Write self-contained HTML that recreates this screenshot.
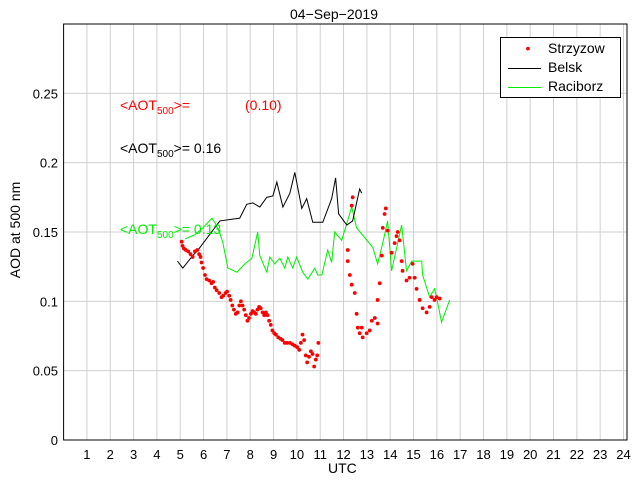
<!DOCTYPE html>
<html><head><meta charset="utf-8"><style>
body{margin:0;background:#fff;font-family:"Liberation Sans",sans-serif}
svg text{font-family:"Liberation Sans",sans-serif}
</style></head><body>
<svg id="c" width="640" height="480"></svg>
<script>
const xTicks=[1,2,3,4,5,6,7,8,9,10,11,12,13,14,15,16,17,18,19,20,21,22,23,24];
const yTicks=[0,0.05,0.1,0.15,0.2,0.25];
const yTickLabels=["0","0.05","0.1","0.15","0.2","0.25"];
const belskH=[4.88,5.11,5.54,5.76,6.70,7.55,7.85,8.11,8.41,8.71,8.97,9.14,9.40,9.70,9.91,10.21,10.42,10.68,11.11,11.49,11.66,11.79,12.14,12.39,12.69,12.78];
const belskA=[0.129,0.124,0.133,0.137,0.158,0.160,0.170,0.171,0.168,0.175,0.176,0.186,0.168,0.178,0.193,0.167,0.174,0.157,0.157,0.174,0.189,0.163,0.155,0.158,0.181,0.178];
const racH=[5.20,5.63,5.97,6.36,6.48,6.70,6.83,7.04,7.43,7.77,8.07,8.32,8.41,8.71,8.84,9.05,9.27,9.48,9.61,9.82,9.99,10.25,10.47,10.77,10.89,11.07,11.32,11.49,11.62,11.92,12.35,12.56,13.25,13.46,13.68,13.89,14.06,14.49,14.70,14.92,15.35,15.39,15.69,15.90,15.99,16.20,16.55];
const racA=[0.145,0.148,0.153,0.160,0.157,0.149,0.142,0.124,0.121,0.127,0.131,0.150,0.133,0.121,0.132,0.127,0.131,0.124,0.132,0.124,0.132,0.121,0.116,0.124,0.119,0.119,0.137,0.128,0.150,0.144,0.168,0.153,0.139,0.127,0.142,0.158,0.122,0.155,0.122,0.129,0.129,0.119,0.103,0.109,0.103,0.085,0.101];
const strH=[5.06,5.10,5.16,5.24,5.34,5.44,5.53,5.63,5.73,5.81,5.87,5.91,5.98,6.06,6.13,6.24,6.34,6.41,6.48,6.56,6.67,6.77,6.84,6.94,7.01,7.10,7.16,7.23,7.30,7.38,7.46,7.53,7.60,7.67,7.74,7.81,7.88,7.95,8.03,8.10,8.17,8.24,8.31,8.38,8.45,8.53,8.60,8.67,8.74,8.81,8.88,8.95,9.03,9.10,9.20,9.30,9.38,9.48,9.58,9.70,9.81,9.91,10.01,10.10,10.17,10.24,10.31,10.38,10.44,10.52,10.60,10.67,10.74,10.81,10.87,10.92,
12.18,12.18,12.27,12.35,12.48,12.56,12.61,12.69,12.78,12.82,12.99,13.12,13.21,13.34,13.46,13.46,13.55,13.64,13.68,13.76,13.81,13.89,14.06,14.19,14.27,14.32,14.40,14.49,14.53,14.70,14.83,14.96,15.05,15.13,15.26,15.39,15.56,15.69,15.78,15.90,15.99,16.12,12.39,12.35];
const strA=[0.143,0.140,0.138,0.137,0.136,0.134,0.132,0.136,0.137,0.134,0.132,0.128,0.124,0.119,0.116,0.115,0.113,0.114,0.110,0.108,0.106,0.103,0.104,0.106,0.107,0.104,0.101,0.097,0.094,0.091,0.092,0.097,0.100,0.097,0.094,0.090,0.086,0.088,0.091,0.093,0.092,0.091,0.094,0.096,0.095,0.092,0.090,0.092,0.090,0.086,0.083,0.079,0.077,0.076,0.074,0.073,0.072,0.070,0.070,0.070,0.069,0.068,0.067,0.065,0.070,0.076,0.072,0.061,0.056,0.060,0.064,0.062,0.053,0.058,0.061,0.070,
0.137,0.129,0.119,0.112,0.106,0.091,0.081,0.077,0.081,0.074,0.077,0.079,0.086,0.088,0.084,0.101,0.113,0.133,0.153,0.163,0.167,0.151,0.135,0.142,0.147,0.150,0.144,0.129,0.122,0.115,0.117,0.127,0.117,0.109,0.101,0.095,0.092,0.096,0.103,0.101,0.103,0.102,0.175,0.169];

const L=63.6,R=627,T=24,B=440,xMax=24.15,yMax=0.3;
const X=h=>L+h/xMax*(R-L);
const Y=a=>B-a/yMax*(B-T);
const svg=document.getElementById('c');
const NS='http://www.w3.org/2000/svg';
function mk(tag,attrs,parent){const e=document.createElementNS(NS,tag);for(const k in attrs)e.setAttribute(k,attrs[k]);(parent||svg).appendChild(e);return e;}

const grid=mk('g',{});


xTicks.forEach(t=>{
  const l=mk('line',{x1:X(t),x2:X(t),y1:T,y2:B,stroke:'#d0d0d0','stroke-width':1},grid);
  
  
  const tx=mk('text',{x:X(t),y:459,'text-anchor':'middle','font-size':13},svg);
  tx.textContent=t;
  
  
});
yTicks.forEach((t,i)=>{
  if(t>0){const l=mk('line',{x1:L,x2:R,y1:Y(t),y2:Y(t),stroke:'#d0d0d0','stroke-width':1},grid);
  
  }
  const tx=mk('text',{x:58,y:Y(t)+5,'text-anchor':'end','font-size':13});
  tx.textContent=yTickLabels[i];
  
  
});
const frame=mk('rect',{x:L,y:T,width:R-L,height:B-T,fill:'none',stroke:'#000','stroke-width':1});



function line(hs,as,color,name){
  const p=mk('polyline',{points:hs.map((h,i)=>X(h)+','+Y(as[i])).join(' '),fill:'none',stroke:color,'stroke-width':1});
  
  
}
line(racH,racA,'#00ee00','raciborz-line');
line(belskH,belskA,'#000','belsk-line');
const sg=mk('g',{fill:'#ff0000'});


strH.forEach((h,i)=>{
  const c=mk('circle',{cx:X(h),cy:Y(strA[i]),r:1.9},sg);
  
  
});
</script>
<div style="position:absolute;left:0;top:0;width:640px;height:480px;pointer-events:none">
<div style="position:absolute;left:290px;top:6px;font-size:14px">04−Sep−2019</div>
<div style="position:absolute;left:328px;top:460px;font-size:14px">UTC</div>
<div style="position:absolute;left:-35px;top:222px;width:100px;text-align:center;font-size:14px;transform:rotate(-90deg)">AOD at 500 nm</div>
<div style="position:absolute;left:120px;top:97px;font-size:14px;color:#ff0000">&lt;AOT<sub style="font-size:10px">500</sub>&gt;=<span style="position:absolute;left:125px;top:0">(0.10)</span></div>
<div style="position:absolute;left:120px;top:140px;font-size:14px;color:#000;white-space:nowrap">&lt;AOT<sub style="font-size:10px">500</sub>&gt;= 0.16</div>
<div style="position:absolute;left:120px;top:221px;font-size:14px;color:#00ee00;white-space:nowrap">&lt;AOT<sub style="font-size:10px">500</sub>&gt;= 0.13</div>
<div style="position:absolute;left:500px;top:37px;width:119px;height:59px;border:1px solid #000;background:#fff;font-size:14px">
 <div style="position:absolute;left:7px;top:2px;white-space:nowrap"><span style="display:inline-block;width:40px;text-align:center;color:#ff0000">•</span>Strzyzow</div>
 <div style="position:absolute;left:7px;top:21px;white-space:nowrap"><span style="display:inline-block;width:33px;border-top:1px solid #000;vertical-align:middle;margin-right:7px"></span>Belsk</div>
 <div style="position:absolute;left:7px;top:40px;white-space:nowrap"><span style="display:inline-block;width:33px;border-top:1px solid #00ee00;vertical-align:middle;margin-right:7px"></span>Raciborz</div>
</div>
</div>
</body></html>
